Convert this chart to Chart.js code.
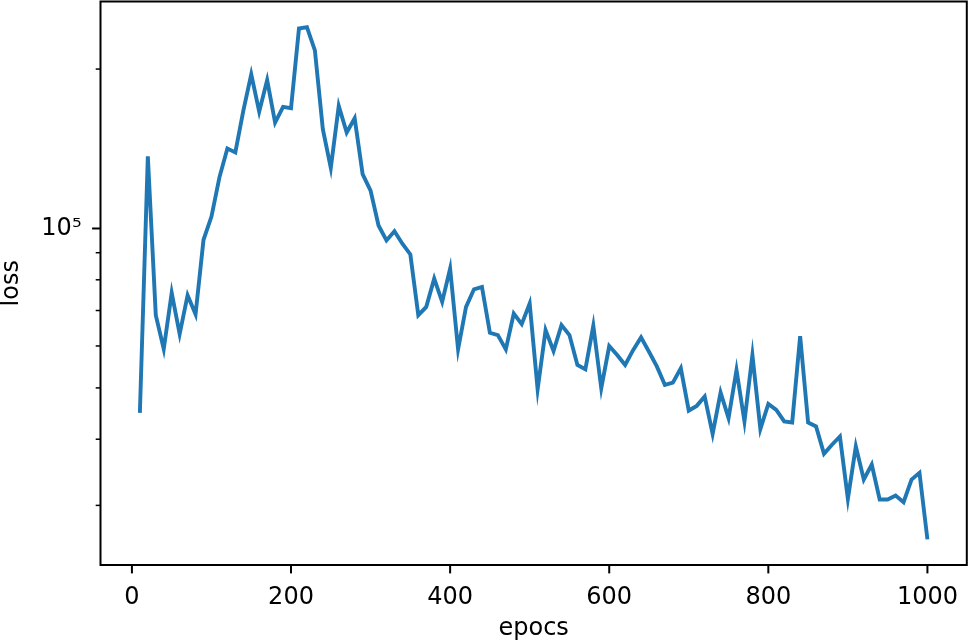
<!DOCTYPE html>
<html>
<head>
<meta charset="utf-8">
<script src="https://cdn.jsdelivr.net/npm/chart.js@4.4.0/dist/chart.umd.min.js"></script>
<style>
  html, body { margin: 0; padding: 0; background: #fff; overflow: hidden; }
  canvas { display: block; }
</style>
</head>
<body>
<canvas id="c" width="969" height="643"></canvas>
<script>
// Training loss per epoch, log-scale y (matplotlib-style look).
const EPOCHS = [10, 20, 30, 40, 50, 60, 70, 80, 90, 100,
  110, 120, 130, 140, 150, 160, 170, 180, 190, 200,
  210, 220, 230, 240, 250, 260, 270, 280, 290, 300,
  310, 320, 330, 340, 350, 360, 370, 380, 390, 400,
  410, 420, 430, 440, 450, 460, 470, 480, 490, 500,
  510, 520, 530, 540, 550, 560, 570, 580, 590, 600,
  610, 620, 630, 640, 650, 660, 670, 680, 690, 700,
  710, 720, 730, 740, 750, 760, 770, 780, 790, 800,
  810, 820, 830, 840, 850, 860, 870, 880, 890, 900,
  910, 920, 930, 940, 950, 960, 970, 980, 990, 1000];
const LOSS = [44860, 136800, 68600, 59200, 75570, 63180, 74810, 68890, 95220, 105340,
  124900, 141600, 139200, 166700, 195500, 166200, 190700, 158500, 169700, 168700,
  238600, 240000, 216900, 154000, 130100, 170400, 151800, 161500, 126700, 117900,
  101300, 94940, 98840, 93590, 89340, 68600, 71110, 80410, 72680, 83990,
  59130, 71110, 76780, 77550, 63530, 62900, 59130, 69100, 65980, 72180,
  49700, 64280, 58690, 65700, 62900, 55230, 54220, 65500, 49930, 59980,
  57690, 55230, 58930, 62280, 58520, 54830, 50650, 51150, 54450, 45310,
  46240, 48160, 40920, 48990, 43850, 54050, 43210, 57690, 41810, 46650,
  45450, 43210, 43010, 62630, 43010, 42280, 37560, 39050, 40480, 30870,
  38770, 33570, 35820, 30780, 30780, 31320, 30420, 33570, 34560, 25880];

const X_TICKS = [0, 200, 400, 600, 800, 1000];
const Y_TICKS = [30000, 40000, 50000, 60000, 70000, 80000, 90000, 100000, 200000];
const Y_MAJOR = [100000];
const Y_LABELS = {100000: "10\u2075"};

const BLUE = "#1f77b4";
Chart.defaults.font.family = "'DejaVu Sans', sans-serif";
Chart.defaults.font.size = 24;
Chart.defaults.color = "#000";

// frame on all four sides + outward tick marks (major long, minor short)
const frame = {
  id: "frame",
  afterDraw(chart) {
    const {ctx, chartArea: a, scales: {x, y}} = chart;
    const seg = (x1, y1, x2, y2, w) => { ctx.lineWidth = w; ctx.beginPath(); ctx.moveTo(x1, y1); ctx.lineTo(x2, y2); ctx.stroke(); };
    ctx.save();
    ctx.strokeStyle = "#000";
    ctx.lineWidth = 2;
    ctx.strokeRect(a.left, a.top, a.right - a.left, a.bottom - a.top);
    X_TICKS.forEach(v => { const px = x.getPixelForValue(v); seg(px, a.bottom, px, a.bottom + 8.4, 2); });
    Y_TICKS.forEach(v => {
      const py = y.getPixelForValue(v), major = Y_MAJOR.includes(v);
      seg(a.left - (major ? 8.4 : 4.8), py, a.left, py, major ? 2 : 1.5);
    });
    ctx.restore();
  }
};

new Chart(document.getElementById("c"), {
  type: "line",
  data: {
    labels: EPOCHS,
    datasets: [{data: EPOCHS.map((e, i) => ({x: e, y: LOSS[i]})), borderColor: BLUE, backgroundColor: BLUE,
      borderWidth: 3.9, pointRadius: 0, tension: 0, fill: false}]
  },
  options: {
    responsive: false, animation: false, devicePixelRatio: 1,
    layout: {padding: {top: 1.5, right: 2.2, left: 0, bottom: 0}},
    plugins: {legend: {display: false}, tooltip: {enabled: false}},
    scales: {
      x: {
        type: "linear", min: -39.5, max: 1049.5,
        grid: {display: false, drawTicks: false}, border: {display: false},
        ticks: {padding: 18, autoSkip: false, maxRotation: 0, callback: v => String(v)},
        afterBuildTicks: s => { s.ticks = X_TICKS.map(v => ({value: v})); },
        afterFit: s => { s.height = 78; s.paddingLeft = 0; s.paddingRight = 0; },
        title: {display: true, text: "epocs", padding: {top: 0, bottom: 0}}
      },
      y: {
        type: "logarithmic", min: 23150, max: 268300,
        grid: {display: false, drawTicks: false}, border: {display: false},
        ticks: {padding: 19, autoSkip: false, callback: v => Y_LABELS[v] || ""},
        afterBuildTicks: s => { s.ticks = Y_TICKS.map(v => ({value: v, major: Y_MAJOR.includes(v)})); },
        afterFit: s => { s.width = 100.5; s.paddingTop = 0; s.paddingBottom = 0; },
        title: {display: true, text: "loss", padding: {top: -3, bottom: 0}}
      }
    }
  },
  plugins: [frame]
});
</script>
</body>
</html>
